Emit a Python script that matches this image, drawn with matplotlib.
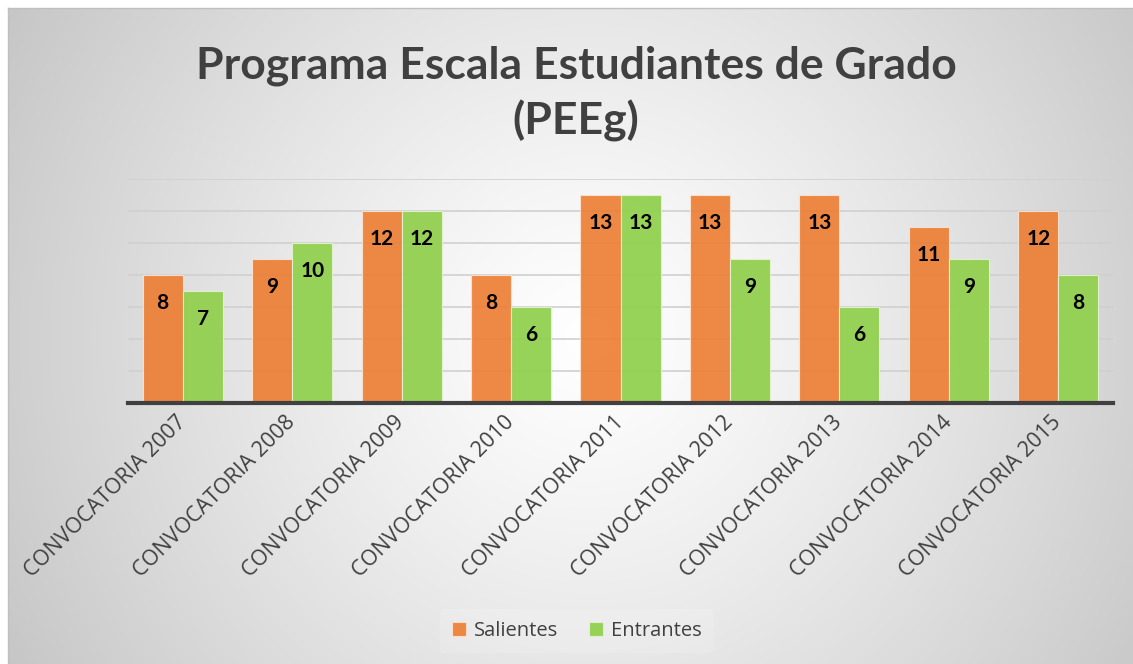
import numpy as np
import matplotlib.pyplot as plt

# datos
convocatorias = ["CONVOCATORIA 2007", "CONVOCATORIA 2008", "CONVOCATORIA 2009",
                 "CONVOCATORIA 2010", "CONVOCATORIA 2011", "CONVOCATORIA 2012",
                 "CONVOCATORIA 2013", "CONVOCATORIA 2014", "CONVOCATORIA 2015"]
salientes = [8, 9, 12, 8, 13, 13, 13, 11, 12]
entrantes = [7, 10, 12, 6, 13, 9, 6, 9, 8]

naranja = '#ED7D31'
verde = '#92D050'

W, H = 1133, 664
fig = plt.figure(figsize=(W / 100, H / 100), dpi=100)
fig.patch.set_facecolor('white')

# fondo con degradado radial
fondo = fig.add_axes([8 / W, 0, 1 - 8 / W, 1 - 8 / H])
fondo.set_zorder(-10)
nx, ny = W - 8, H - 8
xx, yy = np.meshgrid(np.arange(nx), np.arange(ny))
d = np.sqrt((xx - 580) ** 2 + (yy - 330) ** 2) / 659
v = 1 - 0.22 * d ** 1.2
v = np.clip(v, 0, 1)
img = np.dstack([v, v, v])
fondo.imshow(img, aspect='auto', interpolation='bilinear')
fondo.set_xticks([])
fondo.set_yticks([])
for s in ['right', 'bottom']:
    fondo.spines[s].set_visible(False)
for s in ['top', 'left']:
    fondo.spines[s].set_color('#bfbfbf')
    fondo.spines[s].set_linewidth(1)

ax = fig.add_axes([128 / W, 1 - 403 / H, (1113 - 128) / W, (403 - 179) / H])
ax.set_facecolor('none')

x = np.arange(len(convocatorias))
ancho = 0.366
b1 = ax.bar(x - ancho / 2, salientes, ancho, color=naranja, alpha=0.9,
            edgecolor='#fbe3d3', linewidth=0.8, label='Salientes', zorder=3)
b2 = ax.bar(x + ancho / 2, entrantes, ancho, color=verde, alpha=0.95,
            edgecolor='#e2f2cf', linewidth=0.8, label='Entrantes', zorder=3)

for barras, vals in [(b1, salientes), (b2, entrantes)]:
    for b, val in zip(barras, vals):
        ax.annotate(str(val), (b.get_x() + b.get_width() / 2, val),
                    xytext=(0, -20), textcoords='offset points',
                    ha='center', va='center', fontsize=15, fontweight='bold',
                    family='Lato', color='black', zorder=5)

ax.set_xlim(-0.5, len(convocatorias) - 0.5)
ax.set_ylim(0, 14)
ax.set_yticks(np.arange(0, 15, 2))
ax.yaxis.grid(True, color='#d0d0d0', linewidth=1.2, zorder=0)
ax.tick_params(axis='y', left=False, labelleft=False)
ax.tick_params(axis='x', bottom=False, pad=8)
for s in ['top', 'right', 'left']:
    ax.spines[s].set_visible(False)
ax.spines['bottom'].set_color('#404040')
ax.spines['bottom'].set_linewidth(3)
ax.spines['bottom'].set_zorder(6)

ax.set_xticks(x)
ax.set_xticklabels(convocatorias, rotation=45, ha='right', va='center',
                   rotation_mode='anchor', fontsize=15.5, family='Open Sans',
                   color='#404040')

fig.text(576 / W, 1 - 66 / H, 'Programa Escala Estudiantes de Grado',
         ha='center', va='center', fontsize=32, fontweight='bold',
         family='Lato', color='#404040')
fig.text(576 / W, 1 - 121 / H, '(PEEg)',
         ha='center', va='center', fontsize=32, fontweight='bold',
         family='Lato', color='#404040')

leg = fig.legend(handles=[b1, b2], loc='center', bbox_to_anchor=(577 / W, 1 - 631 / H),
                 ncol=2, frameon=True, prop={'family': 'Open Sans', 'size': 14.5},
                 handlelength=0.7, handleheight=0.7, columnspacing=1.5, handletextpad=0.4,
                 borderpad=0.6)
leg.get_frame().set_facecolor('white')
leg.get_frame().set_alpha(0.15)
leg.get_frame().set_edgecolor('none')
for t in leg.get_texts():
    t.set_color('#404040')

fig.savefig('out.png', dpi=100)
